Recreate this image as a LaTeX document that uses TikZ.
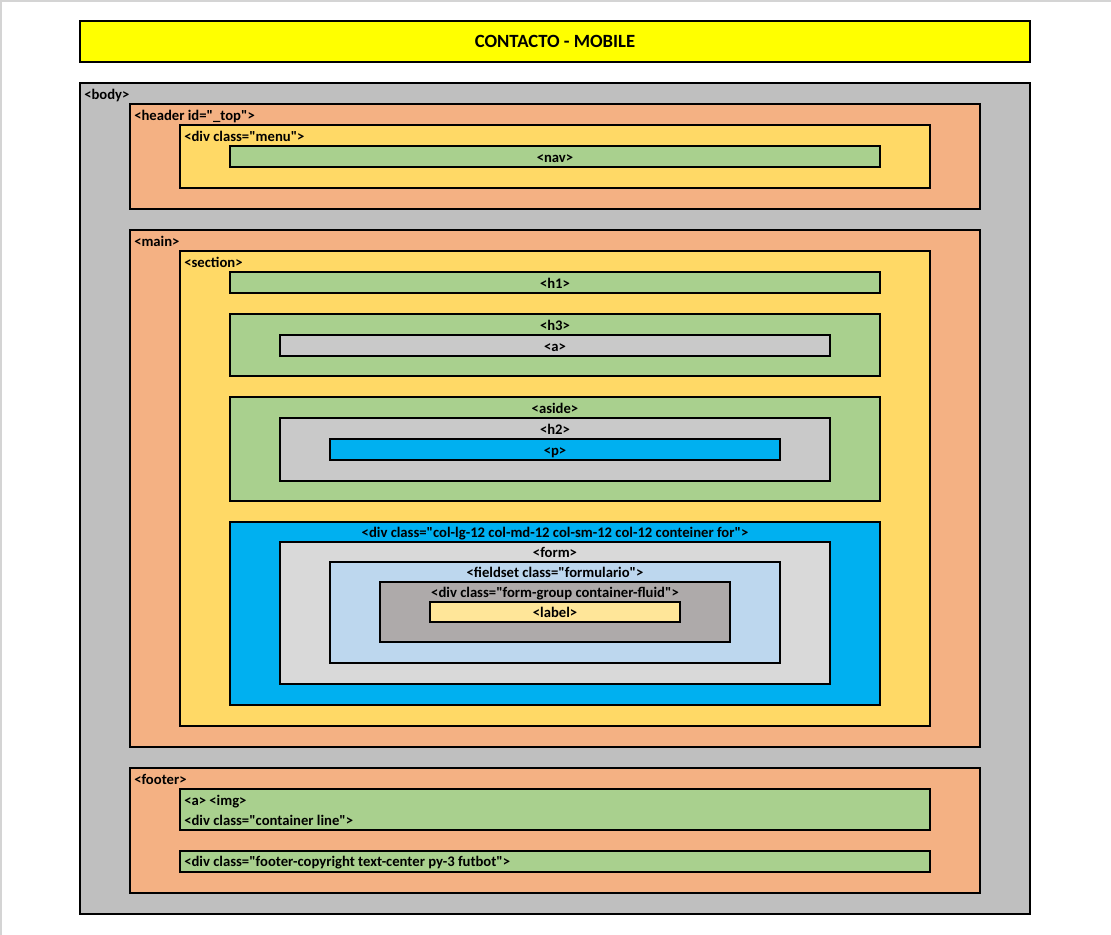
\documentclass[tikz,border=0pt]{standalone}
\usepackage{fontspec}
\newfontfamily\calfont{Carlito}
\usetikzlibrary{fit}
\definecolor{cyellow}{HTML}{FFFF00}
\definecolor{cbody}{HTML}{BFBFBF}
\definecolor{corange}{HTML}{F4B183}
\definecolor{cgold}{HTML}{FFD966}
\definecolor{cgreen}{HTML}{A9D08E}
\definecolor{cgray}{HTML}{C9C9C9}
\definecolor{cblue}{HTML}{00B0F0}
\definecolor{clgray}{HTML}{D9D9D9}
\definecolor{clblue}{HTML}{BDD7EE}
\definecolor{cdgray}{HTML}{AEAAAA}
\definecolor{clyellow}{HTML}{FFE699}
\definecolor{cgrid}{HTML}{D4D4D4}
\begin{document}
\begin{tikzpicture}[x=0.75pt,y=-0.75pt,
  box/.style={draw=black, line width=1.5pt, inner sep=0pt},
  lbl/.style={font=\calfont\bfseries\fontsize{11}{13}\selectfont, inner sep=0pt, text=black}]
\useasboundingbox[fill=white] (0,0) rectangle (1111,935);
\draw[cgrid, line width=1.2pt] (1,935) -- (1,1) -- (1111,1);
% title
\node[box, fill=cyellow, fit={(80,21)(1030,62)}] (title) {};
\node[lbl, font=\calfont\bfseries\fontsize{14}{16}\selectfont, anchor=base] (ttitle) at (555,47) {CONTACTO - MOBILE};
% body
\node[box, fill=cbody, fit={(80,83)(1030,914)}] (body) {};
\node[lbl, anchor=base west] (tbody) at (84,99) {<body>};
% header
\node[box, fill=corange, fit={(130,104)(980,209)}] (header) {};
\node[lbl, anchor=base west] (theader) at (134,120) {<header id="\_top">};
\node[box, fill=cgold, fit={(180,125)(930,188)}] (menu) {};
\node[lbl, anchor=base west] (tmenu) at (184,141) {<div class="menu">};
\node[box, fill=cgreen, fit={(230,146)(880,167)}] (nav) {};
\node[lbl, anchor=base] (tnav) at (555,162) {<nav>};
% main
\node[box, fill=corange, fit={(130,230)(980,747)}] (main) {};
\node[lbl, anchor=base west] (tmain) at (134,246) {<main>};
\node[box, fill=cgold, fit={(180,251)(930,726)}] (section) {};
\node[lbl, anchor=base west] (tsection) at (184,267) {<section>};
\node[box, fill=cgreen, fit={(230,272)(880,293)}] (h1) {};
\node[lbl, anchor=base] (th1) at (555,288) {<h1>};
\node[box, fill=cgreen, fit={(230,314)(880,376)}] (h3) {};
\node[lbl, anchor=base] (th3) at (555,330) {<h3>};
\node[box, fill=cgray, fit={(280,335)(830,356)}] (a) {};
\node[lbl, anchor=base] (ta) at (555,351) {<a>};
\node[box, fill=cgreen, fit={(230,397)(880,501)}] (aside) {};
\node[lbl, anchor=base] (taside) at (555,413) {<aside>};
\node[box, fill=cgray, fit={(280,418)(830,481)}] (h2) {};
\node[lbl, anchor=base] (th2) at (555,434) {<h2>};
\node[box, fill=cblue, fit={(330,439)(780,460)}] (p) {};
\node[lbl, anchor=base] (tp) at (555,455) {<p>};
\node[box, fill=cblue, fit={(230,522)(880,705)}] (col) {};
\node[lbl, anchor=base] (tcol) at (555,537) {<div class="col-lg-12 col-md-12 col-sm-12 col-12 conteiner for">};
\node[box, fill=clgray, fit={(280,542)(830,684)}] (form) {};
\node[lbl, anchor=base] (tform) at (555,557) {<form>};
\node[box, fill=clblue, fit={(330,562)(780,663)}] (fieldset) {};
\node[lbl, anchor=base] (tfieldset) at (555,577) {<fieldset class="formulario">};
\node[box, fill=cdgray, fit={(380,582)(730,642)}] (fgroup) {};
\node[lbl, anchor=base] (tfgroup) at (555,597) {<div class="form-group container-fluid">};
\node[box, fill=clyellow, fit={(430,602)(680,622)}] (label) {};
\node[lbl, anchor=base] (tlabel) at (555,617) {<label>};
% footer
\node[box, fill=corange, fit={(130,768)(980,893)}] (footer) {};
\node[lbl, anchor=base west] (tfooter) at (134,784) {<footer>};
\node[box, fill=cgreen, fit={(180,789)(930,830)}] (fline) {};
\node[lbl, anchor=base west] (timg) at (184,805) {<a> <img>};
\node[lbl, anchor=base west] (tline) at (184,825) {<div class="container line">};
\node[box, fill=cgreen, fit={(180,851)(930,872)}] (fcopy) {};
\node[lbl, anchor=base west] (tcopy) at (184,866) {<div class="footer-copyright text-center py-3 futbot">};
\end{tikzpicture}
\end{document}
